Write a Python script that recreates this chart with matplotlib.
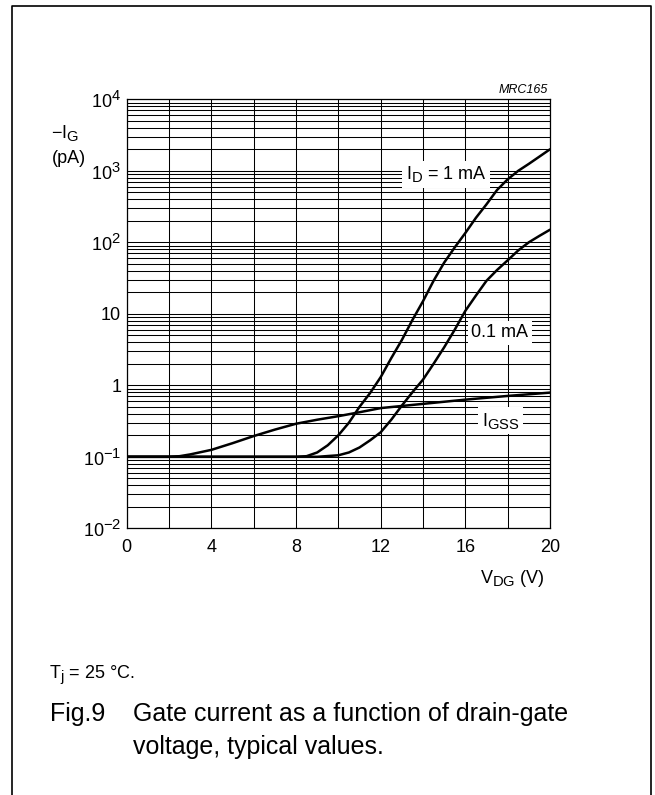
import matplotlib
matplotlib.use("Agg")
import matplotlib.pyplot as plt
from matplotlib.lines import Line2D
from matplotlib import font_manager
import matplotlib._mathtext as mt

plt.rcParams['font.family'] = ['Liberation Sans', 'DejaVu Sans']
plt.rcParams['mathtext.fontset'] = 'custom'
plt.rcParams['mathtext.rm'] = 'Liberation Sans'
plt.rcParams['mathtext.it'] = 'Liberation Sans:italic'
plt.rcParams['mathtext.default'] = 'regular'
# datasheet subscripts are nearly full size
mt.SHRINK_FACTOR = 0.82

try:
    font_manager.findfont('Liberation Sans Narrow', fallback_to_default=False)
    narrow = 'Liberation Sans Narrow'
except ValueError:
    narrow = None

# gate current curves (V_DG in V, -I_G in pA)
v_igss = [0, 2, 2.5, 3, 4, 5, 6, 7, 8, 9, 10, 11, 12, 14, 16, 18, 20]
i_igss = [0.1, 0.1, 0.102, 0.108, 0.125, 0.155, 0.195, 0.24, 0.29, 0.33,
          0.37, 0.42, 0.48, 0.55, 0.63, 0.71, 0.79]

v_1ma = [0, 8, 8.5, 9, 9.5, 10, 10.5, 11, 11.5, 12, 12.5, 13, 13.5, 14,
         14.5, 15, 15.5, 16, 16.5, 17, 17.5, 18, 18.5, 19, 19.5, 20]
i_1ma = [0.1, 0.1, 0.102, 0.115, 0.145, 0.2, 0.3, 0.5, 0.78, 1.3, 2.4, 4.3,
         8.2, 15, 29, 52, 85, 135, 220, 340, 540, 760, 1000, 1250, 1580, 2000]

v_01ma = [0, 9, 10, 10.5, 11, 11.5, 12, 12.5, 13, 13.5, 14, 14.5, 15, 15.5,
          16, 16.5, 17, 17.5, 18, 18.5, 19, 19.5, 20]
i_01ma = [0.1, 0.1, 0.105, 0.115, 0.135, 0.17, 0.22, 0.33, 0.52, 0.8, 1.2,
          2.0, 3.4, 6.0, 11.0, 18, 29, 41, 56, 77, 100, 123, 150]

x_ticks = [0, 4, 8, 12, 16, 20]
y_ticks = [1e-2, 1e-1, 1, 10, 1e2, 1e3, 1e4]
y_ticklabels = ['$10^{-2}$', '$10^{-1}$', '1', '10', '$10^2$', '$10^3$', '$10^4$']

W, H = 655, 795
fig = plt.figure(figsize=(W / 100, H / 100), dpi=100)
ax = fig.add_axes([126.7 / W, 1 - 528.3 / H, (550 - 126.7) / W, (528.3 - 99.3) / H])

ax.set_yscale('log')
ax.set_xlim(0, 20)
ax.set_ylim(1e-2, 1e4)

ax.set_xticks(range(0, 21, 2), minor=True)
ax.set_xticks(x_ticks)
ax.set_xticklabels([str(t) for t in x_ticks])
ax.set_yticks(y_ticks)
ax.set_yticklabels(y_ticklabels)
ax.tick_params(which='both', length=0, labelsize=13)
ax.tick_params(axis='x', pad=8)
ax.tick_params(axis='y', pad=4)

ax.grid(True, which='both', axis='both', color='black', lw=0.75)
ax.set_axisbelow(True)
for sp in ax.spines.values():
    sp.set_linewidth(0.9)

for v, i in [(v_igss, i_igss), (v_1ma, i_1ma), (v_01ma, i_01ma)]:
    ax.plot(v, i, color='black', lw=1.8, solid_capstyle='round', zorder=3)

box = dict(facecolor='white', edgecolor='none', pad=2.5)
ax.text(15.09, 900, '$I_D$ = 1 mA', fontsize=13, ha='center', va='center', bbox=box, zorder=4)
ax.text(17.62, 5.4, '0.1 mA', fontsize=13, ha='center', va='center', bbox=box, zorder=4)
ax.text(17.66, 0.32, '$I_{GSS}$', fontsize=13, ha='center', va='center', bbox=box, zorder=4)

ax.text(0.995, 1.008, 'MRC165', transform=ax.transAxes, fontsize=9, style='italic',
        ha='right', va='bottom')

# axis titles placed like the datasheet
fig.text(50.7 / W, 1 - 138 / H, '$-I_G$', fontsize=13, ha='left', va='baseline')
fig.text(51.7 / W, 1 - 163 / H, '(pA)', fontsize=13, ha='left', va='baseline')
fig.text(545 / W, 1 - 583 / H, '$V_{DG}$ (V)', fontsize=13, ha='right', va='baseline')

if narrow:
    fig.text(49 / W, 1 - 678 / H, '$T_j$ = 25 °C.', fontsize=15, family=[narrow, 'Liberation Sans'],
             ha='left', va='baseline')
else:
    fig.text(49 / W, 1 - 678 / H, '$T_j$ = 25 °C.', fontsize=13, ha='left', va='baseline')
fig.text(50 / W, 1 - 721 / H, 'Fig.9', fontsize=18, ha='left', va='baseline')
fig.text(133 / W, 1 - 721 / H, 'Gate current as a function of drain-gate',
         fontsize=18, ha='left', va='baseline')
fig.text(133 / W, 1 - 754 / H, 'voltage, typical values.', fontsize=18,
         ha='left', va='baseline')

# page frame (open at the bottom)
fx0, fx1, fy0 = 11.5 / W, 650.5 / W, 1 - 6 / H
fig.add_artist(Line2D([fx0, fx0, fx1, fx1], [0, fy0, fy0, 0], color='black', lw=1.2,
                      transform=fig.transFigure))

fig.savefig('out.png', dpi=100)
